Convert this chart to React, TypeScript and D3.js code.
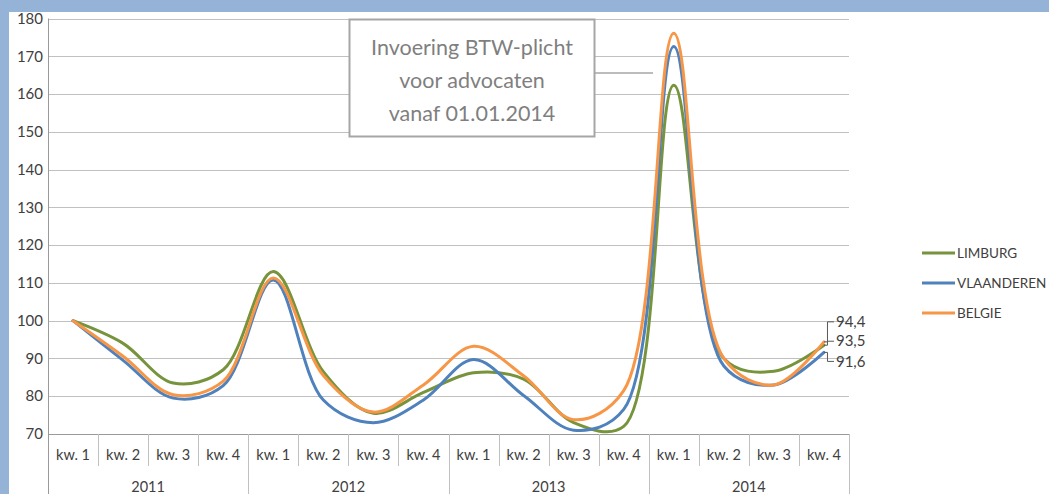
import React from "react";
import * as d3 from "d3";

// quarters per year, and the index values per series
const years = ["2011", "2012", "2013", "2014"];
const quarters = ["kw. 1", "kw. 2", "kw. 3", "kw. 4"];
const seriesNames = ["LIMBURG", "VLAANDEREN", "BELGIE"];
const limburg = [100, 94, 83.5, 87, 113, 86.5, 75.5, 81, 86.2, 84.5, 73, 72, 162.3, 90, 86.6, 93.5];
const vlaanderen = [100, 89.5, 79.5, 82.8, 110.8, 79, 73, 79, 89.7, 80.2, 71, 76.5, 172.6, 88, 83, 91.6];
const belgie = [100, 90.6, 80.4, 84, 111.3, 85.5, 75.8, 83, 93.2, 85.4, 73.8, 81.5, 176.1, 90, 83, 94.4];
const endLabels = ["93,5", "91,6", "94,4"];
const noteLines = ["Invoering BTW-plicht", "voor advocaten", "vanaf 01.01.2014"];

const colors = ["#77933c", "#4f81bd", "#f79646"];
const FONT = "Lato, 'Open Sans', sans-serif";

export default function App() {
  const W = 1049, H = 494;
  const left = 48, right = 849, top = 18.5, bottom = 434;

  const cats = years.flatMap(y => quarters.map(q => `${y} ${q}`));
  const x = d3.scaleBand().domain(cats).range([left, right]);
  const yearX = d3.scaleBand().domain(years).range([left, right]);
  const y = d3.scaleLinear().domain([70, 180]).range([bottom, top]);
  const cx = (i: number) => x(cats[i])! + x.bandwidth() / 2;

  const line = d3.line<number>()
    .x((_, i) => cx(i))
    .y(d => y(d))
    .curve(d3.curveCatmullRom);

  const series = [limburg, vlaanderen, belgie];

  // data label offsets (px) relative to the last point, like Excel placed them
  const labelDy = [-4, 9, -20];
  const lastX = cx(cats.length - 1);

  return (
    <div style={{ position: "absolute", left: 0, top: 0, width: W, height: H, background: "#fff" }}>
      <svg width={W} height={H} style={{ display: "block", fontFamily: FONT }}>
        <rect x={0} y={0} width={W} height={12} fill="#95b3d7" />
        <rect x={0} y={0} width={9} height={H} fill="#95b3d7" />

        {/* grid + y ticks */}
        {y.ticks(11).map(t => (
          <g key={t}>
            <line x1={left} x2={right} y1={Math.round(y(t)) + 0.5} y2={Math.round(y(t)) + 0.5}
              stroke="#c0c0c0" strokeWidth={1.2} />
            <text x={43} y={y(t)} dy="0.35em" textAnchor="end" fontSize={15} fill="#404040">{t}</text>
          </g>
        ))}
        <line x1={left + 0.5} x2={left + 0.5} y1={top} y2={H} stroke="#9a9a9a" />
        <line x1={left} x2={right} y1={bottom + 0.5} y2={bottom + 0.5} stroke="#9a9a9a" />

        {/* category axis */}
        {cats.map((c, i) => (
          <g key={c}>
            <line x1={Math.round(x(c)! + x.bandwidth()) + 0.5} x2={Math.round(x(c)! + x.bandwidth()) + 0.5}
              y1={bottom} y2={i % 4 === 3 ? H : 466} stroke="#c0c0c0" />
            <text x={cx(i)} y={455} dy="0.35em" textAnchor="middle" fontSize={14.5} fill="#404040">
              {quarters[i % 4]}
            </text>
          </g>
        ))}
        {years.map(yr => (
          <text key={yr} x={yearX(yr)! + yearX.bandwidth() / 2} y={487} dy="0.35em"
            textAnchor="middle" fontSize={14.5} fill="#404040">{yr}</text>
        ))}

        {/* lines */}
        {series.map((s, k) => (
          <path key={seriesNames[k]} d={line(s) ?? ""} fill="none" stroke={colors[k]}
            strokeWidth={3} strokeLinejoin="round" strokeLinecap="round" />
        ))}

        {/* end labels with leader lines */}
        {series.map((s, k) => {
          const py = y(s[s.length - 1]);
          const ly = py + labelDy[k];
          return (
            <g key={"lab" + k}>
              <polyline points={`${lastX},${py} ${lastX + 3.5},${py} ${lastX + 3.5},${ly} ${lastX + 10},${ly}`}
                fill="none" stroke="#595959" strokeWidth={1} />
              <text x={lastX + 12} y={ly} dy="0.35em" fontSize={15} fill="#404040">{endLabels[k]}</text>
            </g>
          );
        })}

        {/* annotation */}
        <line x1={595} x2={653} y1={73} y2={73} stroke="#a6a6a6" strokeWidth={1.5} />
        <rect x={349.5} y={19.5} width={245} height={117} fill="#fff" stroke="#a6a6a6" strokeWidth={2} />
        {noteLines.map((t, i) => (
          <text key={t} x={472} y={47 + i * 33} dy="0.35em" textAnchor="middle" fontSize={21.5} fill="#7f7f7f">{t}</text>
        ))}

        {/* legend */}
        {seriesNames.map((n, k) => (
          <g key={n} transform={`translate(922, ${253 + k * 30})`}>
            <line x1={0} x2={33} y1={0} y2={0} stroke={colors[k]} strokeWidth={3} />
            <text x={35} y={0} dy="0.35em" fontSize={13.5} fill="#404040">{n}</text>
          </g>
        ))}
      </svg>
    </div>
  );
}
